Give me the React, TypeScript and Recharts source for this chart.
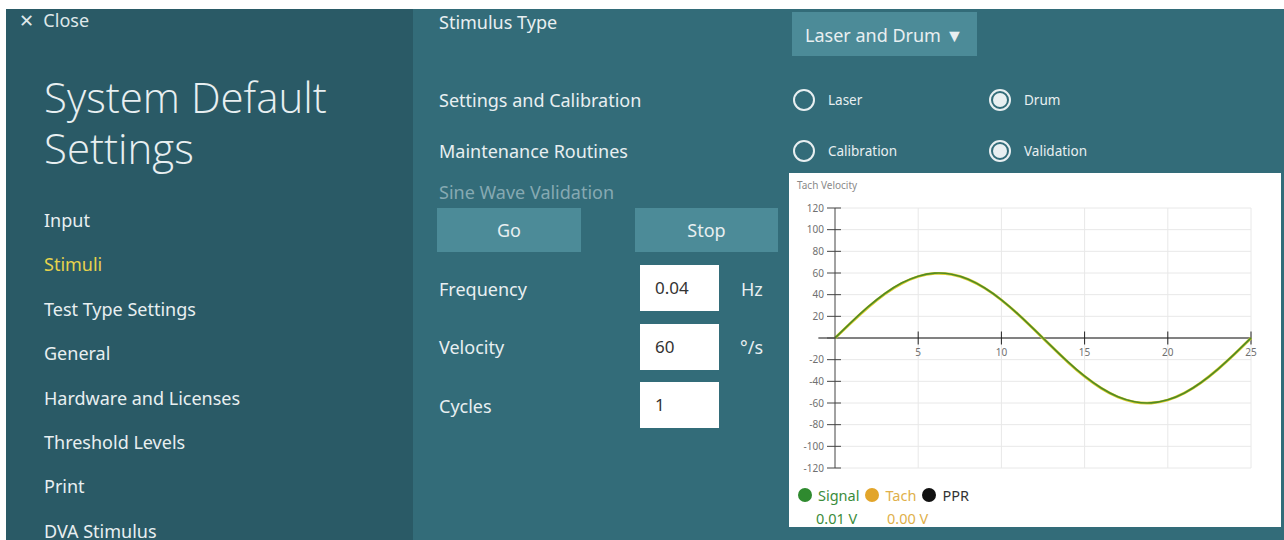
import React from 'react'
import { LineChart, Line, XAxis, YAxis, CartesianGrid, ReferenceLine } from 'recharts'

// seconds
const time = [0, 1, 2, 3, 4, 5, 6, 7, 8, 9, 10, 11, 12, 13, 14, 15, 16, 17, 18, 19, 20, 21, 22, 23, 24, 25]
// deg/s
const signal = [0, 14.9, 28.9, 41.1, 50.7, 57.1, 59.9, 58.9, 54.3, 46.2, 35.3, 22.1, 7.5, -7.5, -22.1, -35.3, -46.2, -54.3, -58.9, -59.9, -57.1, -50.7, -41.1, -28.9, -14.9, 0]
const tach = [0, 14.6, 28.5, 40.8, 50.4, 56.8, 59.6, 58.7, 54.1, 46.0, 35.1, 21.9, 7.3, -7.7, -22.3, -35.5, -46.4, -54.5, -59.1, -60.0, -57.2, -50.8, -41.2, -29.0, -15.0, 0]

const yTicks = [-120, -100, -80, -60, -40, -20, 0, 20, 40, 60, 80, 100, 120]
const xTicks = [5, 10, 15, 20, 25]

const legendItems = [
  { name: 'Signal', color: '#2f8a2f', text: '#3b8c3b', value: '0.01 V' },
  { name: 'Tach', color: '#e2a52a', text: '#e0b04a', value: '0.00 V' },
  { name: 'PPR', color: '#111111', text: '#333333', value: '' },
]

const navItems = ['Input', 'Stimuli', 'Test Type Settings', 'General', 'Hardware and Licenses', 'Threshold Levels', 'Print', 'DVA Stimulus']

const data = time.map((t, i) => ({ t, signal: signal[i], tach: tach[i] }))

const FONT = '"Noto Sans", "Open Sans", sans-serif'
const TEXT = '#e8eff1'
const LEFT_BG = '#2a5a66'
const RIGHT_BG = '#336c79'
const BTN_BG = '#4c8b98'

const abs = (left: number, top: number, extra: React.CSSProperties = {}): React.CSSProperties => ({
  position: 'absolute', left, top, ...extra,
})

function Radio({ x, y, label, checked }: { x: number, y: number, label: string, checked?: boolean }) {
  return (
    <>
      <div style={abs(x - 11, y - 11, { width: 18, height: 18, borderRadius: '50%', border: `2px solid ${TEXT}` })}>
        {checked && <div style={{ position: 'absolute', left: 2, top: 2, width: 14, height: 14, borderRadius: '50%', background: TEXT }} />}
      </div>
      <div style={abs(x + 24, y - 10, { fontSize: 13.5, color: TEXT, lineHeight: '20px' })}>{label}</div>
    </>
  )
}

function Label({ x, y, children, color = TEXT, size = 18 }: { x: number, y: number, children: React.ReactNode, color?: string, size?: number }) {
  return <div style={abs(x, y - 12, { fontSize: size, color, lineHeight: '24px', whiteSpace: 'nowrap' })}>{children}</div>
}

function Button({ x, y, w, h, children }: { x: number, y: number, w: number, h: number, children: React.ReactNode }) {
  return (
    <div style={abs(x, y, { width: w, height: h, background: BTN_BG, color: TEXT, fontSize: 18, display: 'flex', alignItems: 'center', justifyContent: 'center' })}>
      {children}
    </div>
  )
}

function Field({ x, y, value }: { x: number, y: number, value: string }) {
  return (
    <div style={abs(x, y, { width: 79, height: 46, background: '#fff', color: '#333', fontSize: 17, lineHeight: '46px', paddingLeft: 15, boxSizing: 'border-box' })}>
      {value}
    </div>
  )
}

const titleStyle: React.CSSProperties = {
  fontSize: 42, fontWeight: 300, color: TEXT, lineHeight: '46px', fontFamily: '"Open Sans", sans-serif', whiteSpace: 'nowrap',
}

export default function App() {
  return (
    <div style={{ position: 'fixed', left: 0, top: 0, width: 1284, height: 540, background: '#fff', fontFamily: FONT, overflow: 'hidden' }}>
      {/* side menu */}
      <div style={abs(6, 9, { width: 407, height: 531, background: LEFT_BG })} />
      <div style={abs(19, 9, { fontSize: 18, color: '#dfe8ea', lineHeight: '22px' })}>✕&nbsp;&nbsp;Close</div>
      <div style={abs(44, 74, titleStyle)}>System Default</div>
      <div style={abs(44, 125, titleStyle)}>Settings</div>
      {navItems.map((item, i) => (
        <Label key={item} x={44} y={220 + i * 44.4} color={item === 'Stimuli' ? '#e6d24c' : TEXT}>{item}</Label>
      ))}

      {/* settings pane */}
      <div style={abs(413, 9, { width: 871, height: 531, background: RIGHT_BG })} />
      <Label x={439} y={22}>Stimulus Type</Label>
      <div style={abs(792, 12, { width: 185, height: 44, background: BTN_BG, color: TEXT, fontSize: 18, lineHeight: '46px', paddingLeft: 13, boxSizing: 'border-box' })}>
        Laser and Drum ▼
      </div>
      <Label x={439} y={100}>Settings and Calibration</Label>
      <Radio x={804} y={100} label="Laser" />
      <Radio x={1000} y={100} label="Drum" checked />
      <Label x={439} y={151}>Maintenance Routines</Label>
      <Radio x={804} y={151} label="Calibration" />
      <Radio x={1000} y={151} label="Validation" checked />
      <Label x={439} y={192} color="#86a9b2">Sine Wave Validation</Label>
      <Button x={437} y={208} w={144} h={44}>Go</Button>
      <Button x={635} y={208} w={143} h={44}>Stop</Button>
      <Label x={439} y={289}>Frequency</Label>
      <Field x={640} y={265} value="0.04" />
      <Label x={741} y={289}>Hz</Label>
      <Label x={439} y={347}>Velocity</Label>
      <Field x={640} y={324} value="60" />
      <Label x={740} y={347}>°/s</Label>
      <Label x={439} y={406}>Cycles</Label>
      <Field x={640} y={382} value="1" />

      {/* chart card */}
      <div style={abs(789, 173, { width: 492, height: 354, background: '#fff' })} />
      <div style={abs(797, 179, { fontSize: 10, color: '#8a8a8a', lineHeight: '12px' })}>Tach Velocity</div>
      <div style={abs(789, 173)}>
        <LineChart width={492} height={310} data={data} margin={{ top: 35, right: 30, left: 0, bottom: 15 }}>
          <CartesianGrid stroke="#e8e8e8" verticalValues={xTicks} horizontalValues={yTicks} />
          <XAxis type="number" dataKey="t" domain={[0, 25]} ticks={xTicks} hide />
          <YAxis
            domain={[-120, 120]}
            ticks={yTicks}
            interval={0}
            width={46}
            axisLine={{ stroke: '#444' }}
            tickLine={{ stroke: '#444' }}
            tickSize={8}
            tickMargin={3}
            tickFormatter={(v: number) => (v === 0 ? '' : String(v))}
            tick={{ fontSize: 10, fill: '#707070', fontFamily: FONT }}
          />
          <ReferenceLine segment={[{ x: -1, y: 0 }, { x: 25, y: 0 }]} stroke="#111" ifOverflow="visible" />
          {yTicks.filter(v => v !== 0).map(v => (
            <ReferenceLine key={'y' + v} segment={[{ x: 0, y: v }, { x: 0.36, y: v }]} stroke="#444" ifOverflow="visible" />
          ))}
          {xTicks.map(v => (
            <ReferenceLine
              key={'x' + v}
              segment={[{ x: v, y: -6 }, { x: v, y: 6 }]}
              stroke="#222"
              ifOverflow="visible"
              label={{ value: String(v), position: 'bottom', offset: 4, fontSize: 10, fill: '#707070', fontFamily: FONT }}
            />
          ))}
          <Line type="natural" dataKey="tach" stroke="#dccd2c" strokeWidth={2.8} dot={false} isAnimationActive={false} />
          <Line type="natural" dataKey="signal" stroke="#4f8a26" strokeWidth={1.6} dot={false} isAnimationActive={false} />
        </LineChart>
      </div>

      {/* legend */}
      <div style={abs(798, 486, { display: 'flex', alignItems: 'center', fontSize: 14.5, lineHeight: '18px' })}>
        {legendItems.map(item => (
          <div key={item.name} style={{ display: 'flex', alignItems: 'center', marginRight: 6 }}>
            <div style={{ width: 14, height: 14, borderRadius: '50%', background: item.color, marginRight: 6 }} />
            <span style={{ color: item.text }}>{item.name}</span>
          </div>
        ))}
      </div>
      <div style={abs(816, 509, { fontSize: 14.5, lineHeight: '18px', color: legendItems[0].text })}>{legendItems[0].value}</div>
      <div style={abs(887, 509, { fontSize: 14.5, lineHeight: '18px', color: legendItems[1].text })}>{legendItems[1].value}</div>
    </div>
  )
}
